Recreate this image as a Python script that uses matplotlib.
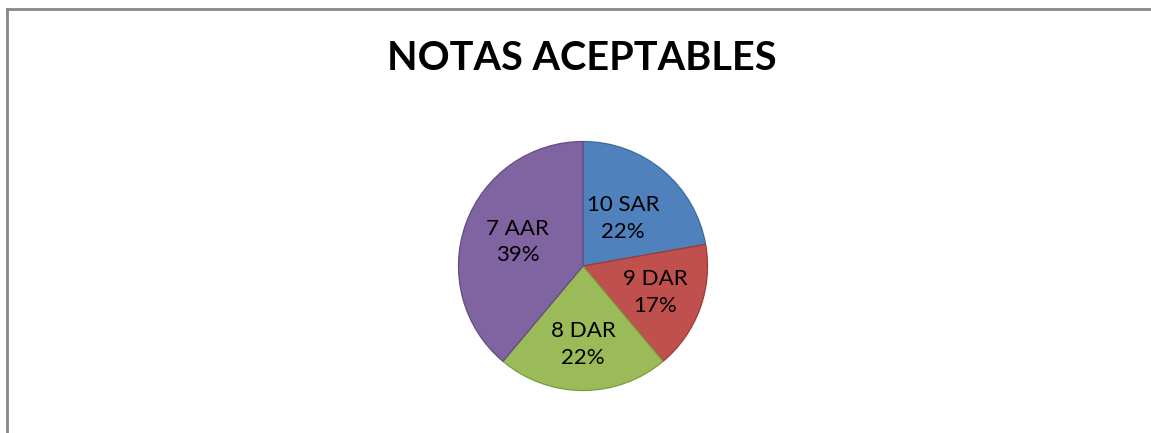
import numpy as np
import matplotlib.pyplot as plt

# data (counts giving 22/17/22/39 %)
categories = ['10 SAR', '9 DAR', '8 DAR', '7 AAR']
counts = [4, 3, 4, 7]
colors = ['#4F81BD', '#C0504D', '#9BBB59', '#8064A2']
edges = ['#3A6A9F', '#9C3B38', '#7D9A43', '#634C83']
label_dist = [0.50, 0.62, 0.63, 0.56]

plt.rcParams['font.family'] = ['Lato', 'DejaVu Sans']

W, H = 1151, 433
fig = plt.figure(figsize=(W / 100, H / 100), dpi=100)

# chart border (left and top visible)
fig.add_artist(plt.Line2D([6.5 / W, 6.5 / W], [0, 1 - 9 / H], color='#888888', lw=2.0))
fig.add_artist(plt.Line2D([6.5 / W, 1], [1 - 9 / H, 1 - 9 / H], color='#888888', lw=2.0))

cx, cy, r = 583, 266, 124.5
ax = fig.add_axes([(cx - r) / W, (H - cy - r) / H, 2 * r / W, 2 * r / H])
wedges, _ = ax.pie(counts, colors=colors, startangle=90, counterclock=False,
                   radius=1.0, wedgeprops=dict(linewidth=0.9))
for w, ec in zip(wedges, edges):
    w.set_edgecolor(ec)

total = sum(counts)
for w, name, n, d in zip(wedges, categories, counts, label_dist):
    ang = np.deg2rad((w.theta1 + w.theta2) / 2)
    ax.text(d * np.cos(ang), d * np.sin(ang), f"{name}\n{100 * n / total:.0f}%",
            ha='center', va='center', fontsize=16, linespacing=1.4, color='black')

ax.set_xlim(-1, 1)
ax.set_ylim(-1, 1)
ax.set_aspect('equal')
ax.axis('off')

fig.text(582 / W, 1 - 59 / H, 'NOTAS ACEPTABLES', ha='center', va='center',
         fontsize=28.5, fontweight='bold')

fig.savefig('out.png', dpi=100)
